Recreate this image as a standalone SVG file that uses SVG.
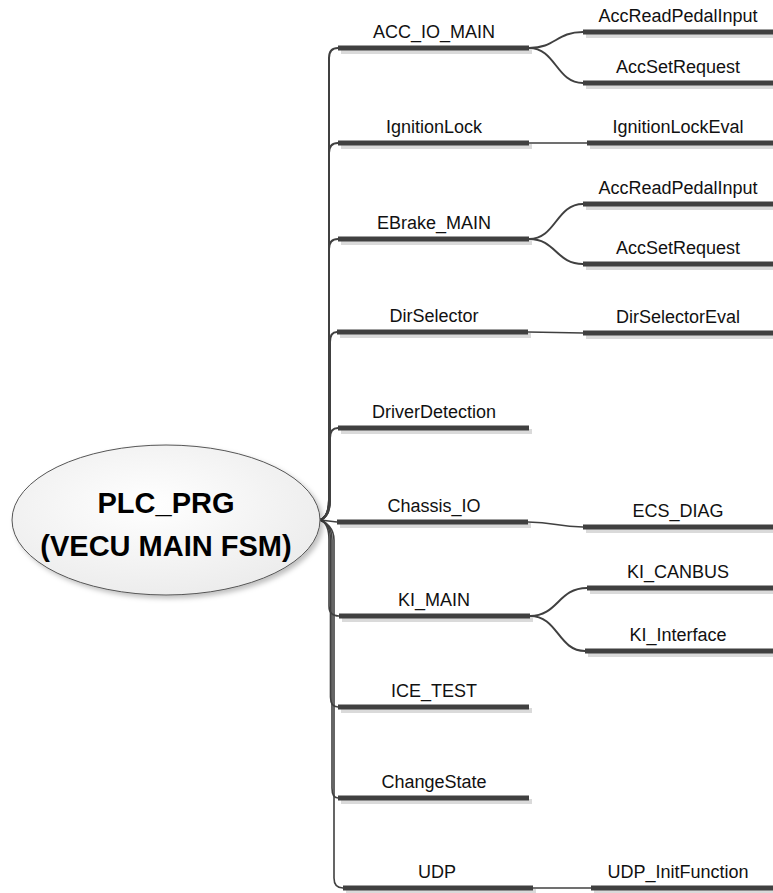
<svg xmlns="http://www.w3.org/2000/svg" width="773" height="893" viewBox="0 0 773 893">
  <defs>
    <radialGradient id="rootFill" cx="45%" cy="40%" r="65%">
      <stop offset="0" stop-color="#ffffff"/>
      <stop offset="1" stop-color="#ebebeb"/>
    </radialGradient>
    <filter id="soft" x="-10%" y="-10%" width="125%" height="130%">
      <feDropShadow dx="3" dy="3" stdDeviation="2.5" flood-color="#000" flood-opacity="0.25"/>
    </filter>
  </defs>
  <style>
    .bar { fill: #404040; }
    .shadow { fill: #dadada; }
    .lbl { font-family: "Liberation Sans", Arial, sans-serif; font-size: 18px; fill: #111; text-anchor: middle; }
    .root { font-family: "Liberation Sans", Arial, sans-serif; font-size: 29px; font-weight: bold; fill: #000; text-anchor: middle; }
    .link { fill: none; stroke: #404040; stroke-width: 2; }
    .trunk { fill: none; stroke: #404040; stroke-width: 1.6; }
    .thin { fill: none; stroke: #404040; stroke-width: 1.5; }
  </style>

  <rect width="773" height="893" fill="#ffffff"/>

  <!-- connectors -->
  <g id="connectors">
    <!-- trunk: root to first-level topics -->
    <path class="link" d="M320,520 C326,518 329,512 329,500 L329,58 C329,51 332,48 338,48"/>
    <path class="link" d="M320,520 C326,518 329,512 329,500 L329,153 C329,146 332,143 338,143"/>
    <path class="link" d="M320,520 C326,518 329,512 329,500 L329,249 C329,242 332,239 338,239"/>
    <path class="link" d="M320,520 C326,518 330,512 330,500 L330,342 C330,335 333,332 337,332"/>
    <path class="link" d="M320,520 C326,518 330,512 330,500 L330,438 C330,431 333,428 338,428"/>
    <path class="thin" d="M320,520 L337,522"/>
    <path class="trunk" d="M320,520 C326,522 329,528 329,540 L329,606 C329,613 333,616 339,616"/>
    <path class="trunk" d="M320,520 C326,522 330.5,528 330.5,540 L330.5,697 C330.5,704 333,707 338,707"/>
    <path class="trunk" d="M320,520 C326,522 332,528 332,540 L332,788 C332,795 334,798 338,798"/>
    <path class="trunk" d="M320,520 C326,522 334,528 334,540 L334,878 C334,885 337,888 343,888"/>

    <!-- first-level to second-level -->
    <path class="link" d="M529,48 C556,48 556,32 583,32"/>
    <path class="link" d="M529,48 C556,48 556,83 583,83"/>
    <path class="thin" d="M529,143 L587,143"/>
    <path class="link" d="M529,239 C556,239 556,204 583,204"/>
    <path class="link" d="M529,239 C556,239 556,264 583,264"/>
    <path class="thin" d="M528,332 C556,332 556,333 583,333"/>
    <path class="thin" d="M528,522 C556,522 556,527 583,527"/>
    <path class="link" d="M530,616 C558,616 558,588 587,588"/>
    <path class="link" d="M530,616 C558,616 558,651 585,651"/>
    <path class="thin" d="M533,888 L591,888"/>
  </g>

  <!-- root -->
  <g id="root">
    <ellipse cx="166" cy="520" rx="154" ry="75" fill="url(#rootFill)" stroke="#555555" stroke-width="1" filter="url(#soft)"/>
    <text class="root" x="166" y="513">PLC_PRG</text>
    <text class="root" x="166" y="556">(VECU MAIN FSM)</text>
  </g>

  <!-- first-level topics -->
  <g id="acc-io-main">
    <rect class="shadow" x="341" y="49" width="191" height="5"/>
    <rect class="bar" x="338" y="45.5" width="191" height="5"/>
    <text class="lbl" x="434" y="38">ACC_IO_MAIN</text>
  </g>
  <g id="ignition-lock">
    <rect class="shadow" x="341" y="144" width="191" height="5"/>
    <rect class="bar" x="338" y="140.5" width="191" height="5"/>
    <text class="lbl" x="434" y="133">IgnitionLock</text>
  </g>
  <g id="ebrake-main">
    <rect class="shadow" x="341" y="240" width="191" height="5"/>
    <rect class="bar" x="338" y="236.5" width="191" height="5"/>
    <text class="lbl" x="434" y="229">EBrake_MAIN</text>
  </g>
  <g id="dir-selector">
    <rect class="shadow" x="340" y="333" width="191" height="5"/>
    <rect class="bar" x="337" y="329.5" width="191" height="5"/>
    <text class="lbl" x="434" y="322">DirSelector</text>
  </g>
  <g id="driver-detection">
    <rect class="shadow" x="341" y="429" width="191" height="5"/>
    <rect class="bar" x="338" y="425.5" width="191" height="5"/>
    <text class="lbl" x="434" y="418">DriverDetection</text>
  </g>
  <g id="chassis-io">
    <rect class="shadow" x="340" y="523" width="191" height="5"/>
    <rect class="bar" x="337" y="519.5" width="191" height="5"/>
    <text class="lbl" x="434" y="512">Chassis_IO</text>
  </g>
  <g id="ki-main">
    <rect class="shadow" x="342" y="617" width="191" height="5"/>
    <rect class="bar" x="339" y="613.5" width="191" height="5"/>
    <text class="lbl" x="434" y="606">KI_MAIN</text>
  </g>
  <g id="ice-test">
    <rect class="shadow" x="341" y="708" width="191" height="5"/>
    <rect class="bar" x="338" y="704.5" width="191" height="5"/>
    <text class="lbl" x="434" y="697">ICE_TEST</text>
  </g>
  <g id="change-state">
    <rect class="shadow" x="341" y="799" width="191" height="5"/>
    <rect class="bar" x="338" y="795.5" width="191" height="5"/>
    <text class="lbl" x="434" y="788">ChangeState</text>
  </g>
  <g id="udp">
    <rect class="shadow" x="346" y="889" width="190" height="5"/>
    <rect class="bar" x="343" y="885.5" width="190" height="5"/>
    <text class="lbl" x="437" y="878">UDP</text>
  </g>

  <!-- second-level topics -->
  <g id="acc-read-pedal-input-1">
    <rect class="shadow" x="586" y="33" width="190" height="5"/>
    <rect class="bar" x="583" y="29.5" width="190" height="5"/>
    <text class="lbl" x="678" y="22">AccReadPedalInput</text>
  </g>
  <g id="acc-set-request-1">
    <rect class="shadow" x="586" y="84" width="190" height="5"/>
    <rect class="bar" x="583" y="80.5" width="190" height="5"/>
    <text class="lbl" x="678" y="73">AccSetRequest</text>
  </g>
  <g id="ignition-lock-eval">
    <rect class="shadow" x="590" y="144" width="190" height="5"/>
    <rect class="bar" x="587" y="140.5" width="190" height="5"/>
    <text class="lbl" x="678" y="133">IgnitionLockEval</text>
  </g>
  <g id="acc-read-pedal-input-2">
    <rect class="shadow" x="586" y="205" width="190" height="5"/>
    <rect class="bar" x="583" y="201.5" width="190" height="5"/>
    <text class="lbl" x="678" y="194">AccReadPedalInput</text>
  </g>
  <g id="acc-set-request-2">
    <rect class="shadow" x="586" y="265" width="190" height="5"/>
    <rect class="bar" x="583" y="261.5" width="190" height="5"/>
    <text class="lbl" x="678" y="254">AccSetRequest</text>
  </g>
  <g id="dir-selector-eval">
    <rect class="shadow" x="586" y="334" width="190" height="5"/>
    <rect class="bar" x="583" y="330.5" width="190" height="5"/>
    <text class="lbl" x="678" y="323">DirSelectorEval</text>
  </g>
  <g id="ecs-diag">
    <rect class="shadow" x="586" y="528" width="190" height="5"/>
    <rect class="bar" x="583" y="524.5" width="190" height="5"/>
    <text class="lbl" x="678" y="517">ECS_DIAG</text>
  </g>
  <g id="ki-canbus">
    <rect class="shadow" x="590" y="589" width="190" height="5"/>
    <rect class="bar" x="587" y="585.5" width="190" height="5"/>
    <text class="lbl" x="678" y="578">KI_CANBUS</text>
  </g>
  <g id="ki-interface">
    <rect class="shadow" x="588" y="652" width="190" height="5"/>
    <rect class="bar" x="585" y="648.5" width="190" height="5"/>
    <text class="lbl" x="678" y="641">KI_Interface</text>
  </g>
  <g id="udp-init-function">
    <rect class="shadow" x="594" y="889" width="190" height="5"/>
    <rect class="bar" x="591" y="885.5" width="190" height="5"/>
    <text class="lbl" x="678" y="878">UDP_InitFunction</text>
  </g>
</svg>
